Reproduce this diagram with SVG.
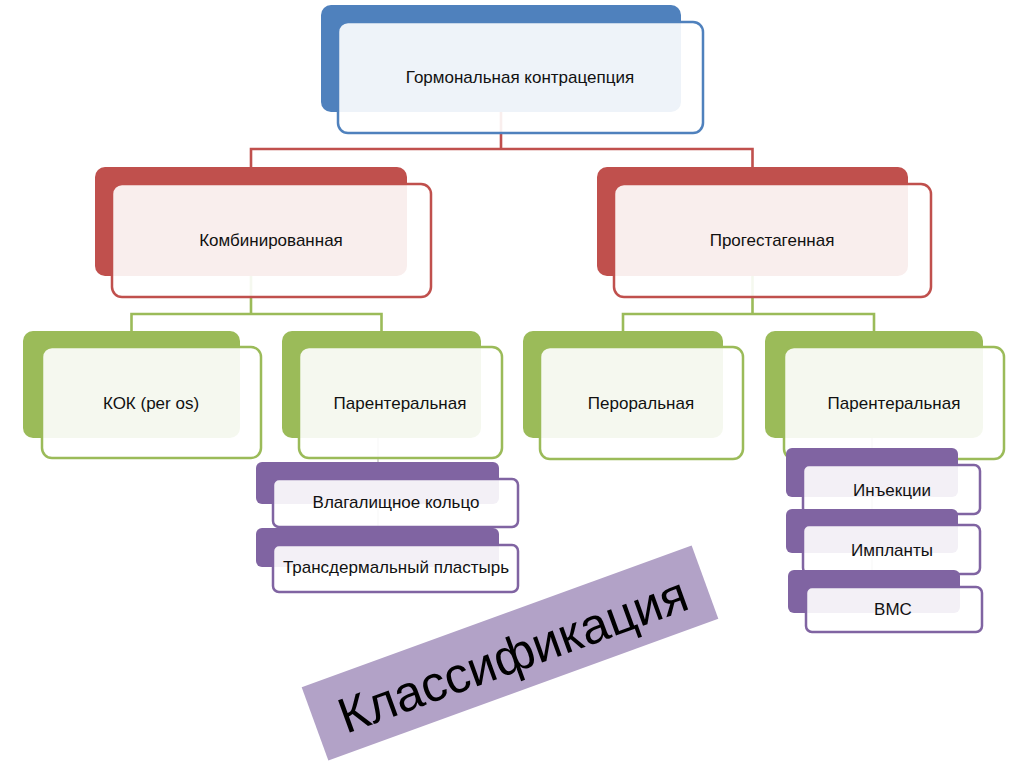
<svg xmlns="http://www.w3.org/2000/svg" width="1024" height="767" viewBox="0 0 1024 767">
<style>
text{font-family:"Liberation Sans",Arial,sans-serif;font-size:17px;fill:#111;text-anchor:middle;dominant-baseline:central}
.front{fill:#fff;fill-opacity:0.9;stroke-width:2.5}
.b-back{fill:#4F81BD}.b-front{stroke:#4F81BD}
.r-back{fill:#C0504D}.r-front{stroke:#C0504D}
.g-back{fill:#9BBB59}.g-front{stroke:#9BBB59}
.p-back{fill:#8064A2}.p-front{stroke:#8064A2}
.con{fill:none;stroke-width:2.6}
</style>
<rect width="1024" height="767" fill="#fff"/>
<g id="connectors">
<path class="con" stroke="#C0504D" d="M501,112V149M251,167V149H752.5V167"/>
<path class="con" stroke="#9BBB59" d="M251,276V314M131.5,331V314H381.5V331"/>
<path class="con" stroke="#9BBB59" d="M752.5,276V314M623,331V314H874V331"/>
<path fill="none" stroke="#D6D6D6" stroke-width="2" d="M378,438V560M872,438V600"/>
</g>
<g id="n-root">
<rect class="b-back" x="321" y="5" width="360" height="107" rx="10"/>
<rect class="front b-front" x="338" y="22" width="365" height="111" rx="10"/>
<text x="520" y="77">Гормональная контрацепция</text>
</g>
<g id="n-comb">
<rect class="r-back" x="95" y="167" width="312" height="109" rx="10"/>
<rect class="front r-front" x="112" y="184" width="319" height="113" rx="10"/>
<text x="271" y="240">Комбинированная</text>
</g>
<g id="n-prog">
<rect class="r-back" x="597" y="167" width="311" height="109" rx="10"/>
<rect class="front r-front" x="614" y="184" width="317" height="113" rx="10"/>
<text x="772" y="240">Прогестагенная</text>
</g>
<g id="n-kok">
<rect class="g-back" x="23" y="331" width="217" height="107" rx="10"/>
<rect class="front g-front" x="42" y="347" width="219" height="111" rx="10"/>
<text x="151" y="403">КОК (per os)</text>
</g>
<g id="n-par1">
<rect class="g-back" x="282" y="331" width="199" height="107" rx="10"/>
<rect class="front g-front" x="299" y="347" width="203" height="111" rx="10"/>
<text x="400" y="403">Парентеральная</text>
</g>
<g id="n-peroral">
<rect class="g-back" x="523" y="331" width="200" height="107" rx="10"/>
<rect class="front g-front" x="540" y="347" width="203" height="112" rx="10"/>
<text x="641" y="403">Пероральная</text>
</g>
<g id="n-par2">
<rect class="g-back" x="765" y="331" width="218" height="107" rx="10"/>
<rect class="front g-front" x="784" y="347" width="220" height="112" rx="10"/>
<text x="894" y="403">Парентеральная</text>
</g>
<g id="n-ring">
<rect class="p-back" x="256" y="462" width="243" height="42" rx="6"/>
<rect class="front p-front" x="273" y="479" width="245" height="48" rx="6"/>
<text x="396" y="502">Влагалищное кольцо</text>
</g>
<g id="n-patch">
<rect class="p-back" x="256" y="528" width="243" height="39" rx="6"/>
<rect class="front p-front" x="273" y="545" width="245" height="47" rx="6"/>
<text x="396" y="567">Трансдермальный пластырь</text>
</g>
<g id="n-inj">
<rect class="p-back" x="786" y="448" width="172" height="49" rx="6"/>
<rect class="front p-front" x="803" y="465" width="177" height="49" rx="6"/>
<text x="892" y="490">Инъекции</text>
</g>
<g id="n-impl">
<rect class="p-back" x="786" y="509" width="172" height="44" rx="6"/>
<rect class="front p-front" x="803" y="525" width="177" height="49" rx="6"/>
<text x="892" y="550">Импланты</text>
</g>
<g id="n-iud">
<rect class="p-back" x="788" y="570" width="172" height="43" rx="6"/>
<rect class="front p-front" x="806" y="587" width="176" height="45" rx="6"/>
<text x="893" y="609">ВМС</text>
</g>
<g id="banner" transform="rotate(-20 510 653)">
<rect x="302.5" y="614" width="415" height="78" fill="#B2A2C7"/>
<text x="512" y="656" style="font-size:50px;fill:#000">Классификация</text>
</g>
</svg>
